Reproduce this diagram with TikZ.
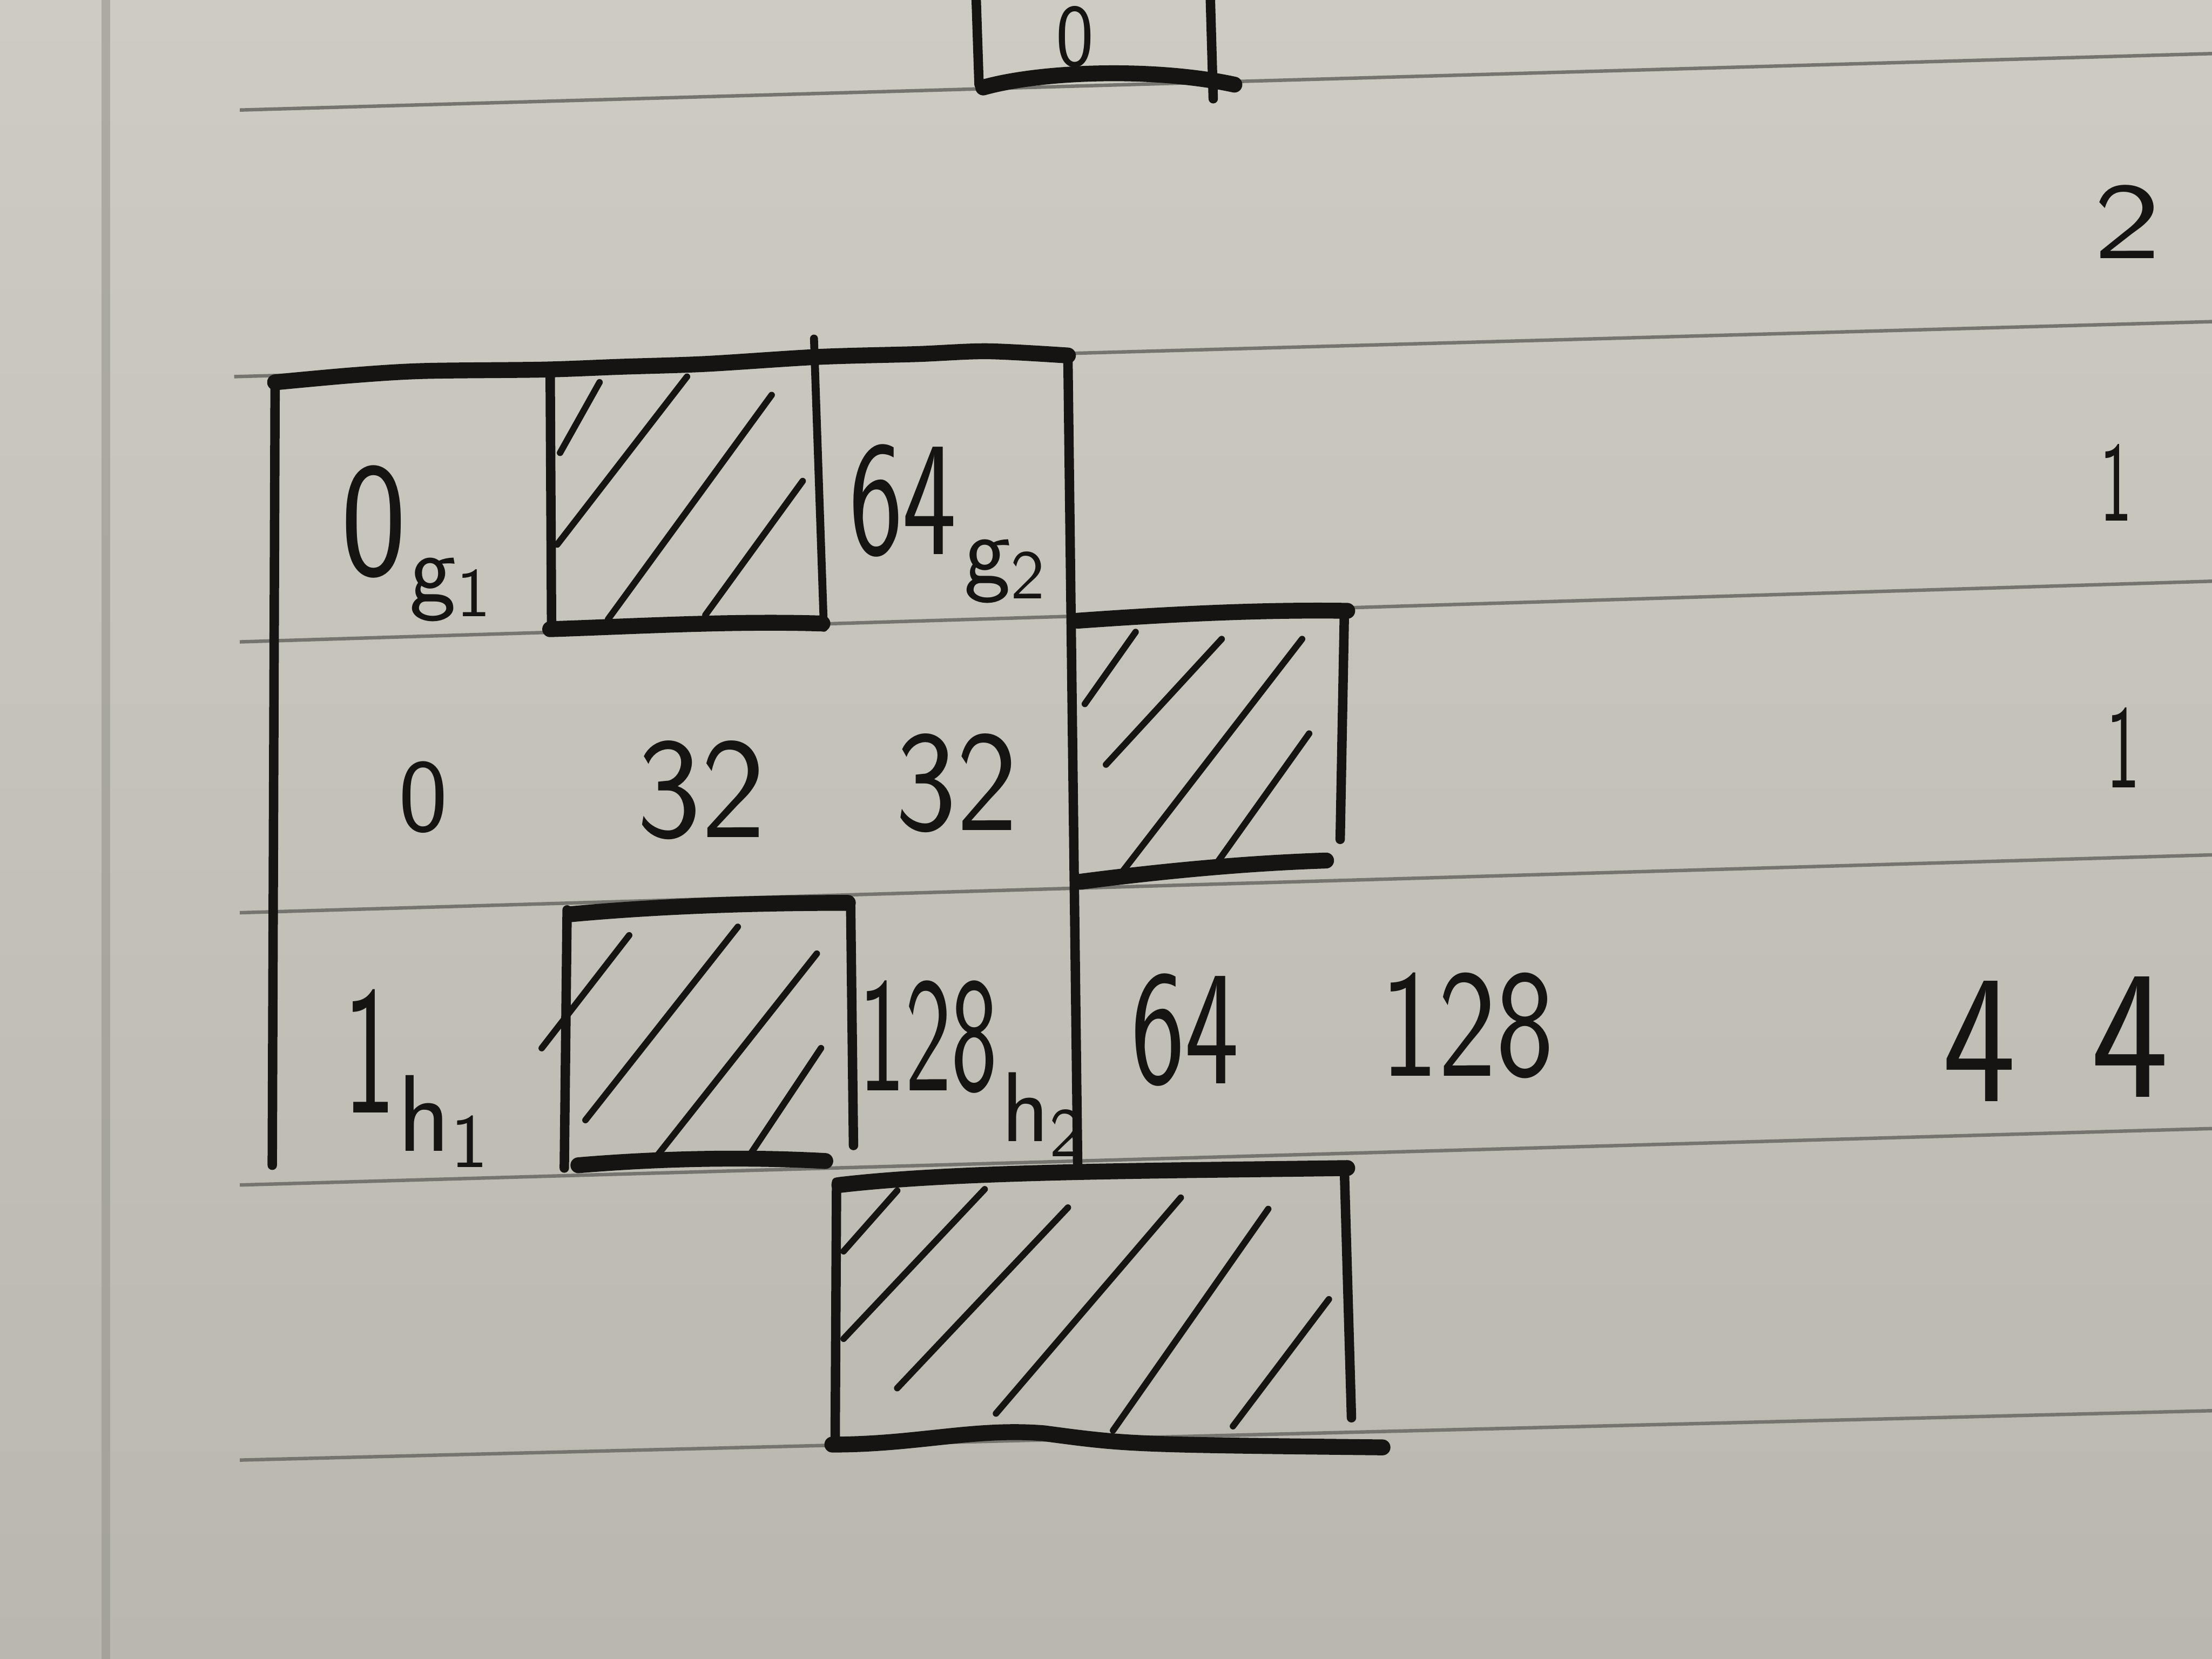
\documentclass[tikz,border=0pt]{standalone}
\usepackage{graphicx}
\definecolor{paperlight}{RGB}{206,203,195}
\definecolor{paperdark}{RGB}{186,183,175}
\definecolor{ink}{RGB}{22,20,18}
\definecolor{rulegray}{RGB}{118,116,110}
\definecolor{margingray}{RGB}{150,149,141}
\newcommand{\hs}[2]{\scalebox{#1}[1]{#2}}
\begin{document}
\begin{tikzpicture}[x=0.01cm,y=-0.01cm,
  ruled/.style={draw=rulegray, line width=0.7pt},
  edge/.style={draw=ink, line width=1.9pt, line cap=round, line join=round},
  thickedge/.style={draw=ink, line width=3.2pt, line cap=round, line join=round},
  hatchline/.style={draw=ink, line width=1.3pt, line cap=round},
  fs/.style={font=\sffamily\fontsize{#1}{#1}\selectfont, text=ink, inner sep=0pt}]
\useasboundingbox (0,0) rectangle (1568,1176);
\shade[top color=paperlight, bottom color=paperdark] (0,0) rectangle (1568,1176);
% margin line
\draw[margingray, line width=1.8pt, opacity=0.6] (75,0) -- (75,1176);
% ruled lines
\draw[ruled] (170,78) -- (1568,38);
\draw[ruled] (166,267) -- (1568,228);
\draw[ruled] (170,455) -- (1568,412);
\draw[ruled] (170,647) -- (1568,606);
\draw[ruled] (170,840) -- (1568,800);
\draw[ruled] (170,1035) -- (1568,1000);

% top partial box
\draw[edge] (692,0) -- (694,60);
\draw[edge] (858,0) -- (860,70);
\draw[thickedge] (697,62) .. controls (740,50) and (820,48) .. (875,60);
\node[fs=18] (zeroTop) at (762,26) {\hs{0.9}{0}};

% main frame
\draw[edge] (195,272) -- (193,826);
\draw[thickedge] plot[smooth] coordinates {(195,271) (250,266) (300,263) (385,262) (440,260) (500,258) (580,253) (650,251) (700,249) (757,252)};
\draw[edge, line width=1.6pt] (577,240) -- (584,445);
\draw[edge] (757,252) -- (764,832);

% box 1
\draw[edge] (390,264) -- (391,447);
\draw[thickedge] (390,446) .. controls (450,444) and (520,440) .. (583,442);
\draw[hatchline] (397,321) -- (425,271);
\draw[hatchline] (395,386) -- (487,267);
\draw[hatchline] (431,439) -- (547,280);
\draw[hatchline] (500,436) -- (569,341);

% box 2
\draw[thickedge] (764,440) .. controls (820,436) and (890,432) .. (955,433);
\draw[edge] (953,433) -- (950,595);
\draw[thickedge] (766,625) .. controls (820,618) and (880,612) .. (940,610);
\draw[hatchline] (769,499) -- (805,448);
\draw[hatchline] (784,542) -- (866,453);
\draw[hatchline] (794,620) -- (923,453);
\draw[hatchline] (861,614) -- (928,520);

% box 3
\draw[thickedge] (405,648) .. controls (470,642) and (540,640) .. (601,640);
\draw[edge] (402,645) -- (400,828);
\draw[edge] (603,640) -- (605,812);
\draw[thickedge] (410,826) .. controls (470,821) and (530,820) .. (585,823);
\draw[hatchline] (384,743) -- (446,663);
\draw[hatchline] (415,794) -- (523,657);
\draw[hatchline] (466,819) -- (579,676);
\draw[hatchline] (528,824) -- (582,743);

% box 4
\draw[thickedge] (595,840) .. controls (680,830) and (820,830) .. (955,828);
\draw[edge] (593,838) -- (592,1024);
\draw[edge] (953,830) -- (958,1005);
\draw[thickedge] (590,1024) .. controls (650,1024) and (690,1012) .. (740,1016) .. controls (800,1024) .. (980,1026);
\draw[hatchline] (598,887) -- (636,844);
\draw[hatchline] (598,949) -- (698,843);
\draw[hatchline] (636,984) -- (757,856);
\draw[hatchline] (706,1002) -- (837,849);
\draw[hatchline] (789,1014) -- (899,857);
\draw[hatchline] (874,1011) -- (942,921);

% texts row 1
\node[fs=33] (zeroG) at (265,370) {\hs{0.85}{0}};
\node[fs=20] (gone) at (320,418) {g\textsubscript{1}};
\node[fs=33] (sixfourA) at (640,355) {\hs{0.7}{64}};
\node[fs=20] (gtwo) at (713,405) {g\textsubscript{2}};
% row 2
\node[fs=21] (zeroB) at (300,565) {0};
\node[fs=29] (thirtytwoA) at (497,560) {\hs{0.95}{32}};
\node[fs=29] (thirtytwoB) at (678,555) {\hs{0.9}{32}};
% row 3
\node[fs=37] (oneH) at (262,745) {\hs{0.6}{1}};
\node[fs=22] (hone) at (315,795) {h\textsubscript{1}};
\node[fs=33] (otwentyeightA) at (658,735) {\hs{0.6}{128}};
\node[fs=20] (htwo) at (740,790) {h\textsubscript{2}};
\node[fs=33] (sixfourB) at (840,730) {\hs{0.7}{64}};
\node[fs=31] (otwentyeightB) at (1040,727) {\hs{0.8}{128}};
% right column
\node[fs=22] (colTwo) at (1508,157) {\hs{1.3}{2}};
\node[fs=23] (colOneA) at (1500,342) {\hs{0.6}{1}};
\node[fs=24] (colOneB) at (1505,530) {\hs{0.6}{1}};
\node[fs=37] (colFourA) at (1403,738) {\hs{0.85}{4}};
\node[fs=37] (colFourB) at (1510,735) {\hs{0.9}{4}};
\end{tikzpicture}
\end{document}
